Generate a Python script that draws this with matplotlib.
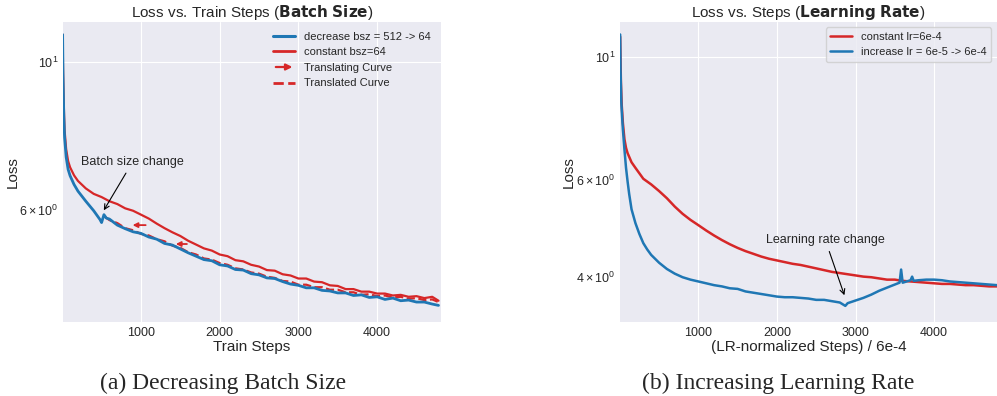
import numpy as np
import matplotlib
matplotlib.use('Agg')
import matplotlib.pyplot as plt
from matplotlib.lines import Line2D
from matplotlib.patches import FancyArrowPatch
from matplotlib.legend_handler import HandlerBase

# ---- left panel: batch size ----
bsz_steps = [5, 10, 20, 30, 50, 75, 100, 150, 200, 300, 400, 480, 500, 530, 560, 600, 700, 800, 900,
             1000, 1100, 1200, 1300, 1400, 1500, 1600, 1700, 1800, 1900, 2000, 2100, 2200, 2300, 2400,
             2500, 2600, 2700, 2800, 2900, 3000, 3100, 3200, 3300, 3400, 3500, 3600, 3700, 3800, 3900,
             4000, 4100, 4200, 4300, 4400, 4500, 4600, 4700, 4780]
bsz_decrease = [11.0, 9.6, 8.3, 7.7, 7.2, 6.9, 6.75, 6.55, 6.4, 6.18, 5.98, 5.8, 5.74, 5.9, 5.83, 5.81,
                5.69, 5.62, 5.56, 5.53, 5.46, 5.42, 5.34, 5.31, 5.24, 5.17, 5.11, 5.05, 5.03, 4.96, 4.94,
                4.88, 4.87, 4.81, 4.79, 4.74, 4.73, 4.68, 4.64, 4.62, 4.58, 4.58, 4.54, 4.53, 4.5, 4.5,
                4.46, 4.47, 4.43, 4.44, 4.4, 4.42, 4.38, 4.39, 4.36, 4.36, 4.33, 4.31]

const_steps = [5, 10, 20, 30, 50, 75, 100, 150, 200, 300, 400, 500, 600, 700, 800, 900, 1000, 1100,
               1200, 1300, 1400, 1500, 1600, 1700, 1800, 1900, 2000, 2100, 2200, 2300, 2400, 2500, 2600,
               2700, 2800, 2900, 3000, 3100, 3200, 3300, 3400, 3500, 3600, 3700, 3800, 3900, 4000, 4100,
               4200, 4300, 4400, 4500, 4600, 4700, 4780]
bsz_constant = [11.0, 9.8, 8.6, 7.9, 7.4, 7.1, 6.95, 6.76, 6.63, 6.46, 6.34, 6.27, 6.18, 6.12, 6.03, 5.98,
                5.9, 5.82, 5.72, 5.63, 5.55, 5.48, 5.39, 5.32, 5.25, 5.21, 5.14, 5.11, 5.04, 5.02, 4.96,
                4.93, 4.87, 4.86, 4.8, 4.78, 4.73, 4.73, 4.68, 4.67, 4.62, 4.61, 4.56, 4.56, 4.52, 4.52,
                4.49, 4.49, 4.46, 4.47, 4.44, 4.45, 4.42, 4.44, 4.38]

trans_steps = [540, 600, 700, 800, 900, 1000, 1100, 1200, 1300, 1400, 1500, 1600, 1700, 1800, 1900,
               2000, 2100, 2200, 2300, 2400, 2500, 2600, 2700, 2800, 2900, 3000, 3100, 3200, 3300, 3400,
               3500, 3600, 3700, 3800, 3900, 4000, 4100, 4200, 4300, 4400, 4500, 4600, 4700, 4780]
bsz_translated = [5.86, 5.79, 5.73, 5.63, 5.59, 5.52, 5.49, 5.42, 5.38, 5.3, 5.26, 5.18, 5.14, 5.07, 5.05,
                  4.99, 4.96, 4.9, 4.88, 4.83, 4.81, 4.76, 4.74, 4.69, 4.68, 4.63, 4.63, 4.59, 4.59, 4.55,
                  4.55, 4.51, 4.51, 4.47, 4.48, 4.45, 4.46, 4.43, 4.44, 4.41, 4.42, 4.39, 4.4, 4.36]

arrow_from = [(1060, 5.69), (1584, 5.33)]
arrow_to = [(894, 5.69), (1443, 5.33)]

# ---- right panel: learning rate ----
lr_const_steps = [5, 15, 25, 40, 60, 80, 100, 150, 200, 300, 400, 500, 600, 700, 800, 900, 1000, 1100,
                  1200, 1300, 1400, 1500, 1600, 1700, 1800, 1900, 2000, 2100, 2200, 2300, 2400, 2500,
                  2600, 2700, 2800, 2900, 3000, 3100, 3200, 3300, 3400, 3500, 3600, 3700, 3800, 3900,
                  4000, 4100, 4200, 4300, 4400, 4500, 4600, 4700, 4800]
lr_constant = [10.9, 9.0, 8.2, 7.6, 7.1, 6.85, 6.7, 6.45, 6.3, 6.02, 5.88, 5.72, 5.55, 5.36, 5.2, 5.07,
               4.96, 4.85, 4.75, 4.66, 4.58, 4.51, 4.45, 4.4, 4.35, 4.31, 4.28, 4.25, 4.22, 4.2, 4.17,
               4.14, 4.11, 4.08, 4.06, 4.04, 4.02, 4.0, 3.99, 3.97, 3.95, 3.95, 3.93, 3.92, 3.91, 3.9,
               3.89, 3.88, 3.88, 3.87, 3.86, 3.86, 3.85, 3.84, 3.84]

lr_inc_steps = [5, 10, 20, 30, 40, 60, 80, 100, 120, 150, 200, 250, 300, 350, 400, 500, 600, 700, 800,
                900, 1000, 1100, 1200, 1300, 1400, 1500, 1600, 1700, 1800, 1900, 2000, 2100, 2200, 2300,
                2400, 2500, 2600, 2700, 2800, 2870, 2900, 3000, 3100, 3200, 3300, 3400, 3500, 3560, 3580,
                3600, 3700, 3720, 3740, 3800, 3900, 4000, 4100, 4200, 4300, 4400, 4500, 4600, 4700, 4800]
lr_increase = [11.0, 9.5, 8.3, 7.8, 7.4, 6.8, 6.3, 5.95, 5.65, 5.3, 5.0, 4.78, 4.6, 4.48, 4.38, 4.24,
               4.13, 4.05, 3.99, 3.95, 3.92, 3.89, 3.86, 3.84, 3.81, 3.8, 3.76, 3.74, 3.72, 3.7, 3.68,
               3.67, 3.67, 3.66, 3.65, 3.63, 3.63, 3.61, 3.59, 3.54, 3.58, 3.62, 3.66, 3.71, 3.77, 3.82,
               3.87, 3.9, 4.12, 3.9, 3.94, 4.0, 3.93, 3.94, 3.95, 3.95, 3.94, 3.92, 3.91, 3.9, 3.89,
               3.88, 3.87, 3.86]

BLUE = '#1f77b4'
RED = '#d62728'


class ArrowHandler(HandlerBase):
    def create_artists(self, legend, orig_handle, xdescent, ydescent, width, height, fontsize, trans):
        y = height / 2 - ydescent
        a = FancyArrowPatch((-xdescent, y), (width - xdescent, y), arrowstyle='-|>',
                            mutation_scale=9, color=RED, lw=1.6, transform=trans)
        return [a]


plt.style.use('seaborn-v0_8-darkgrid')
plt.rcParams['font.family'] = ['Liberation Sans', 'DejaVu Sans']
plt.rcParams['mathtext.fontset'] = 'custom'
plt.rcParams['mathtext.rm'] = 'Liberation Sans'
plt.rcParams['mathtext.it'] = 'Liberation Sans:italic'
plt.rcParams['mathtext.bf'] = 'DejaVu Sans:bold'

fig = plt.figure(figsize=(9.97, 3.96), dpi=100)
ax1 = fig.add_axes([0.0632, 0.187, 0.379, 0.758])
ax2 = fig.add_axes([0.622, 0.187, 0.378, 0.758])

# left
ax1.plot(const_steps, bsz_constant, color=RED, lw=1.6, zorder=2)
ax1.plot(trans_steps, bsz_translated, color=RED, lw=1.6, ls='--', zorder=2)
ax1.plot(bsz_steps, bsz_decrease, color=BLUE, lw=2.0, zorder=3)
for s, e in zip(arrow_from, arrow_to):
    ax1.annotate('', xy=e, xytext=s,
                 arrowprops=dict(arrowstyle='-|>', color=RED, lw=1.3, mutation_scale=7,
                                 shrinkA=0, shrinkB=0))
ax1.annotate('Batch size change', xy=(510, 5.94), xytext=(894, 7.08), ha='center', va='center',
             fontsize=9, arrowprops=dict(arrowstyle='->', color='black', lw=0.8))
ax1.set_yscale('log')
ax1.set_xlim(10, 4810)
ax1.set_ylim(4.07, 11.5)
ax1.set_xticks([1000, 2000, 3000, 4000])
ax1.set_title(r'Loss vs. Train Steps ($\bf{Batch\ Size}$)', fontsize=11, pad=3)
ax1.set_xlabel('Train Steps', fontsize=11, labelpad=1)
ax1.set_ylabel('Loss', fontsize=11)
ax1.yaxis.set_label_coords(-0.114, 0.5)
ax1.tick_params(axis='x', labelsize=9)
ax1.tick_params(axis='y', which='both', labelsize=9)

handles = [Line2D([], [], color=BLUE, lw=2.2),
           Line2D([], [], color=RED, lw=2.0),
           FancyArrowPatch((0, 0), (1, 0)),
           Line2D([], [], color=RED, lw=2.0, ls='--')]
labels = ['decrease bsz = 512 -> 64', 'constant bsz=64', 'Translating Curve', 'Translated Curve']
ax1.legend(handles, labels, loc='upper right', fontsize=8, frameon=False,
           handler_map={FancyArrowPatch: ArrowHandler()})

# right
ax2.plot(lr_const_steps, lr_constant, color=RED, lw=1.8, label='constant lr=6e-4')
ax2.plot(lr_inc_steps, lr_increase, color=BLUE, lw=1.8, label='increase lr = 6e-5 -> 6e-4')
ax2.annotate('Learning rate change', xy=(2870, 3.66), xytext=(2616, 4.66), ha='center', va='center',
             fontsize=9, arrowprops=dict(arrowstyle='->', color='black', lw=0.8))
ax2.set_yscale('log')
ax2.set_xlim(5, 4800)
ax2.set_ylim(3.31, 11.6)
ax2.set_xticks([1000, 2000, 3000, 4000])
ax2.set_title(r'Loss vs. Steps ($\bf{Learning\ Rate}$)', fontsize=11, pad=3)
ax2.set_xlabel('(LR-normalized Steps) / 6e-4', fontsize=11, labelpad=1)
ax2.set_ylabel('Loss', fontsize=11)
ax2.yaxis.set_label_coords(-0.117, 0.5)
ax2.tick_params(axis='x', labelsize=9)
ax2.tick_params(axis='y', which='both', labelsize=9)
ax2.legend(loc='upper right', fontsize=8, frameon=True)

fig.text(0.224, 0.033, '(a) Decreasing Batch Size', family='Liberation Serif', fontsize=17,
         ha='center', va='center')
fig.text(0.781, 0.033, '(b) Increasing Learning Rate', family='Liberation Serif', fontsize=17,
         ha='center', va='center')

fig.savefig('out.png', dpi=100)
